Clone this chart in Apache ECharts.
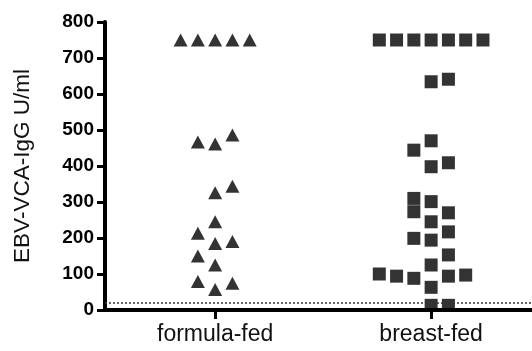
<!DOCTYPE html>
<html>
<head>
<meta charset="utf-8">
<script src="https://cdn.jsdelivr.net/npm/echarts@6/dist/echarts.min.js"></script>
<style>html,body{margin:0;padding:0;background:#fff;}#c{width:532px;height:351px;}</style>
</head>
<body>
<div id="c"></div>
<script>
var categories = ['formula-fed', 'breast-fed'];
var yTicks = [0, 100, 200, 300, 400, 500, 600, 700, 800];
var formulaValues = [750, 750, 750, 750, 750, 467, 461, 486, 326, 344, 245, 213, 185, 190, 150, 125, 79, 57, 74];
var formulaColumn = [-2, -1, 0, 1, 2, -1, 0, 1, 0, 1, 0, -1, 0, 1, -1, 0, -1, 0, 1];
var breastValues = [750, 750, 750, 750, 750, 750, 750, 634, 641, 444, 470, 398, 409, 310, 273, 301, 270, 245, 217, 199, 194, 153, 125, 100, 94, 88, 94, 97, 63, 13, 13];
var breastColumn = [-3, -2, -1, 0, 1, 2, 3, 0, 1, -1, 0, 0, 1, -1, -1, 0, 1, 0, 1, -1, 0, 1, 0, -3, -2, -1, 1, 2, 0, 0, 1];
var detectionLimit = 20;
var columnStep = 0.08;

function toPoints(values, cols, groupIdx) {
  return values.map(function (v, i) { return [groupIdx + cols[i] * columnStep, v]; });
}

var chart = echarts.init(document.getElementById('c'), null, { renderer: 'canvas' });
var font = 'Liberation Sans, Arial, Helvetica, sans-serif';
chart.setOption({
  animation: false,
  backgroundColor: '#fff',
  grid: { left: 105, right: 0, top: 22, bottom: 41, containLabel: false },
  xAxis: {
    type: 'value', min: -0.51, max: 1.467,
    splitLine: { show: false },
    axisLine: { show: true, onZero: false, lineStyle: { color: '#000', width: 4 } },
    axisTick: { show: true, customValues: [0, 1], length: 9, lineStyle: { color: '#000', width: 3 } },
    axisLabel: {
      customValues: [0, 1], margin: 13, color: '#111', fontSize: 23, fontFamily: font,
      formatter: function (v) { return categories[Math.round(v)]; }
    }
  },
  yAxis: {
    type: 'value', min: yTicks[0], max: yTicks[yTicks.length - 1], interval: 100,
    name: 'EBV-VCA-IgG U/ml', nameLocation: 'middle', nameRotate: 90, nameGap: 71,
    nameTextStyle: { fontSize: 22.5, color: '#111', fontFamily: font },
    splitLine: { show: false },
    axisLine: { show: true, onZero: false, lineStyle: { color: '#000', width: 4 } },
    axisTick: { show: true, length: 8, lineStyle: { color: '#000', width: 3 } },
    axisLabel: { margin: 11, color: '#000', fontSize: 19, fontWeight: 'bold', fontFamily: font }
  },
  series: [
    {
      type: 'scatter', symbol: 'triangle', symbolSize: [14, 13],
      itemStyle: { color: '#000' },
      data: toPoints(formulaValues, formulaColumn, 0),
      markLine: {
        silent: true, symbol: 'none', label: { show: false },
        lineStyle: { color: '#333', type: [2, 2], width: 1.5 },
        data: [{ yAxis: detectionLimit }]
      }
    },
    {
      type: 'scatter', symbol: 'rect', symbolSize: 13,
      itemStyle: { color: '#000' },
      data: toPoints(breastValues, breastColumn, 1)
    }
  ]
});
</script>
</body>
</html>
